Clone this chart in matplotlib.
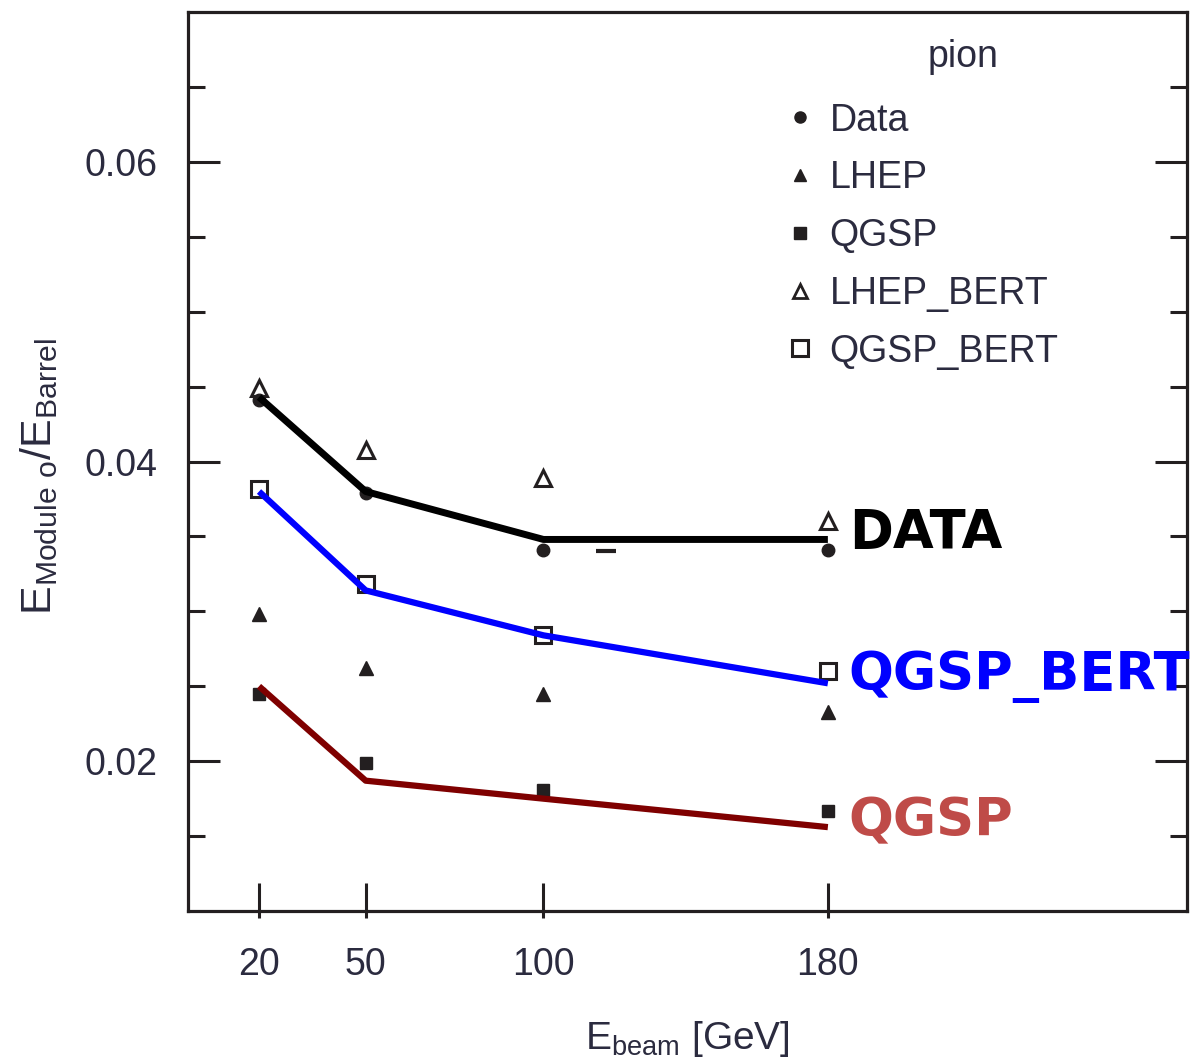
import matplotlib
matplotlib.use('Agg')
import matplotlib.pyplot as plt
from matplotlib.lines import Line2D

# beam energies [GeV]
energies = [20, 50, 100, 180]

# E_module0 / E_barrel
data_pts = [0.0441, 0.0379, 0.0341, 0.0341]
lhep = [0.0298, 0.0262, 0.0245, 0.0233]
qgsp = [0.0245, 0.0199, 0.0181, 0.0167]
lhep_bert = [0.0449, 0.0408, 0.0389, 0.0360]
qgsp_bert = [0.0382, 0.0318, 0.0284, 0.0260]

# hand-drawn overlay lines
data_line = [0.0443, 0.0380, 0.0348, 0.0348]
qgsp_bert_line = [0.0380, 0.0314, 0.0284, 0.0252]
qgsp_line = [0.0250, 0.0187, 0.0175, 0.0156]

# small stray dash in the original
stray_x = [117.5]
stray_y = [0.0340]

ink = '#231f20'
txt = '#2b2b3f'
plt.rcParams['font.family'] = ['Liberation Sans', 'DejaVu Sans']

fig = plt.figure(figsize=(11.97, 10.57), dpi=100)
ax = fig.add_axes([0.157, 0.1381, 0.8346, 0.8505])
ax.set_xlim(0, 281)
ax.set_ylim(0.01, 0.07)

# markers
ax.plot(energies, data_pts, 'o', ms=9, color=ink, mec=ink)
ax.plot(energies, lhep, '^', ms=10, color=ink, mec=ink)
ax.plot(energies, qgsp, 's', ms=9, color=ink, mec=ink)
ax.plot(energies, lhep_bert, '^', ms=12, mfc='none', mec=ink, mew=2.2)
ax.plot(energies, qgsp_bert, 's', ms=12, mfc='none', mec=ink, mew=2.2)
ax.plot(stray_x, stray_y, '_', ms=14, mew=3, color=ink)

# overlay lines
ax.plot(energies, data_line, color='black', lw=5, zorder=5, solid_capstyle='butt')
ax.plot(energies, qgsp_bert_line, color='#0000ff', lw=4.5, zorder=5, solid_capstyle='butt')
ax.plot(energies, qgsp_line, color='#7f0000', lw=4.5, zorder=5, solid_capstyle='butt')

lab_kw = dict(textcoords='offset points', va='center', ha='left',
              fontsize=38, fontweight='bold', family='DejaVu Sans',
              annotation_clip=False, clip_on=False)
ax.annotate('DATA', xy=(energies[-1], data_line[-1]), xytext=(15, 4.5),
            color='black', **lab_kw)
ax.annotate('QGSP_BERT', xy=(energies[-1], qgsp_bert_line[-1]), xytext=(15, 4.5),
            color='#0000ff', **lab_kw)
ax.annotate('QGSP', xy=(energies[-1], qgsp_line[-1]), xytext=(15, 4.5),
            color='#bf4b48', **lab_kw)

# legend
handles = [
    Line2D([], [], ls='none', marker='o', ms=8, color=ink),
    Line2D([], [], ls='none', marker='^', ms=8, color=ink),
    Line2D([], [], ls='none', marker='s', ms=9, color=ink),
    Line2D([], [], ls='none', marker='^', ms=10, mfc='none', mec=ink, mew=2),
    Line2D([], [], ls='none', marker='s', ms=11, mfc='none', mec=ink, mew=2.2),
]
labels = ['Data', 'LHEP', 'QGSP', 'LHEP_BERT', 'QGSP_BERT']
leg = ax.legend(handles, labels, loc='upper left', bbox_to_anchor=(0.603, 0.8993),
                frameon=False, fontsize=27, handlelength=0.5, handletextpad=0.55,
                labelspacing=0.58, borderpad=0, borderaxespad=0)
for t in leg.get_texts():
    t.set_color(txt)
ax.text(0.776, 0.95, 'pion', transform=ax.transAxes, ha='center', va='center',
        fontsize=27, color=txt)

# axes, ticks
for s in ax.spines.values():
    s.set_linewidth(2.3)
    s.set_color(ink)

ax.set_xticks(energies)
ax.set_xticklabels([str(e) for e in energies])
ax.set_xticks(energies, minor=True)
ax.xaxis.remove_overlapping_locs = False
ax.tick_params(axis='x', which='major', direction='in', length=20, width=2.2,
               color=ink, pad=26, labelsize=27, labelcolor=txt)
ax.tick_params(axis='x', which='minor', direction='out', length=5, width=2.2, color=ink)

ax.set_yticks([0.02, 0.04, 0.06])
ax.set_yticklabels(['0.02', '0.04', '0.06'])
ax.set_yticks([0.015, 0.025, 0.03, 0.035, 0.045, 0.05, 0.055, 0.065], minor=True)
ax.tick_params(axis='y', which='major', direction='in', length=23, width=2.2,
               color=ink, left=True, right=True, pad=22, labelsize=27, labelcolor=txt)
ax.tick_params(axis='y', which='minor', direction='in', length=12, width=2.2,
               color=ink, left=True, right=True)

ax.set_xlabel(r'E$_{\mathregular{beam}}$ [GeV]', fontsize=28, color=txt, labelpad=26)
ax.set_ylabel(r'E$_{\mathregular{Module\ o}}$/E$_{\mathregular{Barrel}}$', fontsize=31,
              color=txt)
ax.yaxis.set_label_coords(-0.128, 0.483)

fig.savefig('out.png', dpi=100)
